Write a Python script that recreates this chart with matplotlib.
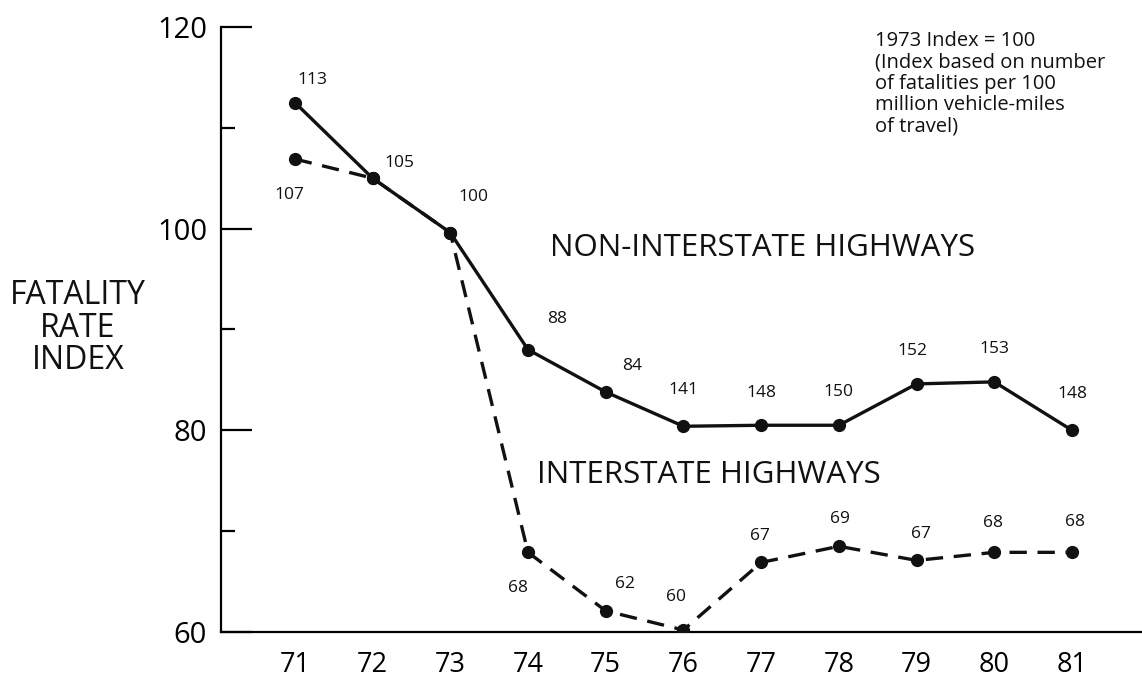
import matplotlib.pyplot as plt
from matplotlib.ticker import MultipleLocator

plt.rcParams['font.family'] = ['Open Sans', 'DejaVu Sans']

# years on the x axis
years = [71, 72, 73, 74, 75, 76, 77, 78, 79, 80, 81]
year_labels = ['71', '72', '73', '74', '75', '76', '77', '78', '79', '80', '81']

# index values
non_interstate = [112.5, 105.0, 99.6, 88.0, 83.8, 80.4, 80.5, 80.5, 84.6, 84.8, 80.0]
interstate = [106.9, 105.0, 99.6, 67.9, 62.1, 60.2, 66.9, 68.5, 67.1, 67.9, 67.9]

# printed point labels (as they appear on the scan)
non_interstate_text = ['113', '105', '100', '88', '84', '141', '148', '150', '152', '153', '148']
interstate_text = ['107', '', '', '68', '62', '60', '67', '69', '67', '68', '68']

# label offsets in points
ni_off = [(13, 16), (19, 11), (17, 26), (21, 22), (19, 19), (0, 26), (0, 23),
          (0, 24), (-3, 24), (0, 24), (0, 26)]
i_off = [(-4, -26), None, None, (-7, -26), (14, 19), (-5, 24), (-1, 19),
         (1, 20), (3, 19), (-1, 21), (2, 22)]

fig = plt.figure(figsize=(11.42, 6.94), dpi=100)
ax = fig.add_axes([0.1935, 0.0893, 0.8065, 0.872])

ax.plot(years, non_interstate, color='#111111', lw=2.4, marker='o', ms=8.5,
        solid_joinstyle='round', zorder=3)
ax.plot(years, interstate, color='#111111', lw=2.4, marker='o', ms=8.5,
        linestyle=(0, (5.2, 3.2)), zorder=3)

for x, y, t, off in zip(years, non_interstate, non_interstate_text, ni_off):
    ax.annotate(t, (x, y), xytext=off, textcoords='offset points',
                ha='center', va='center', fontsize=12.5, color='#111111')
for x, y, t, off in zip(years, interstate, interstate_text, i_off):
    if t:
        ax.annotate(t, (x, y), xytext=off, textcoords='offset points',
                    ha='center', va='center', fontsize=12.5, color='#111111')

ax.set_xlim(70.05, 81.9)
ax.set_ylim(60, 120)

ax.spines['top'].set_visible(False)
ax.spines['right'].set_visible(False)
ax.spines['left'].set_linewidth(1.6)
ax.spines['bottom'].set_linewidth(1.6)

ax.set_xticks(years)
ax.set_xticklabels(year_labels, fontsize=19.5)
ax.tick_params(axis='x', length=0, pad=14)

ax.yaxis.set_major_locator(MultipleLocator(20))
ax.yaxis.set_minor_locator(MultipleLocator(10))
ax.tick_params(axis='y', which='major', direction='in', length=22, width=1.6,
               labelsize=21, pad=10)
ax.tick_params(axis='y', which='minor', direction='in', length=10, width=1.6)

ax.text(74.28, 98.1, 'NON-INTERSTATE HIGHWAYS', fontsize=22.5, color='#111111',
        va='center', ha='left')
ax.text(74.12, 75.6, 'INTERSTATE HIGHWAYS', fontsize=22.5, color='#111111',
        va='center', ha='left')

ax.text(78.47, 119.6, '1973 Index = 100\n(Index based on number\nof fatalities per 100\n'
        'million vehicle-miles\nof travel)', fontsize=14.5, color='#111111',
        va='top', ha='left', linespacing=1.1)

fig.text(78 / 1142, 1 - 328 / 694, 'FATALITY\nRATE\nINDEX', fontsize=23,
         ha='center', va='center', multialignment='center', linespacing=0.97,
         color='#111111')

fig.savefig('out.png', dpi=100)
